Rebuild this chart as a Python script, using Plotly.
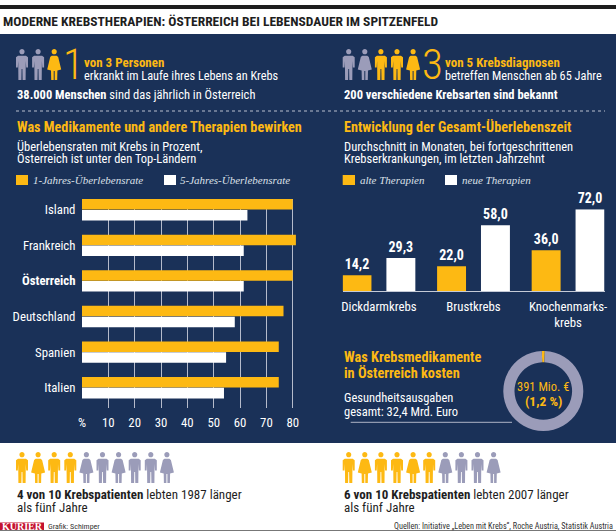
import plotly.graph_objects as go

W, H = 616, 531
NAVY = "#1A3158"
GOLD = "#FDB913"
GRAY = "#9B9CB9"
NARROW = "'Roboto Condensed', Roboto, sans-serif"
SERIF = "Liberation Serif"

countries = ["Island", "Frankreich", "<b>Österreich</b>", "Deutschland", "Spanien", "Italien"]
one_year = [80.0, 81.2, 80.0, 76.5, 74.7, 74.7]
five_year = [62.8, 61.4, 61.4, 58.0, 54.7, 53.9]
pct_ticks = [0, 10, 20, 30, 40, 50, 60, 70, 80]
pct_labels = ["%", "10", "20", "30", "40", "50", "60", "70", "80"]

cancers = ["Dickdarmkrebs", "Brustkrebs", "Knochenmarks-<br>krebs"]
old_therapy = [14.2, 22.0, 36.0]
new_therapy = [29.3, 58.0, 72.0]

cost_share = [1.2, 98.8]

icons_top_left = [("m", GRAY), ("m", GRAY), ("f", GOLD)]
icons_top_right = [("m", GRAY), ("f", GRAY), ("m", GOLD), ("m", GOLD), ("f", GOLD)]
icons_1987 = [("m", GOLD), ("f", GOLD), ("m", GOLD), ("m", GOLD), ("f", GRAY),
              ("m", GRAY), ("f", GRAY), ("m", GRAY), ("m", GRAY), ("f", GRAY)]
icons_2007 = [("m", GOLD), ("f", GOLD), ("m", GOLD), ("m", GOLD), ("f", GOLD),
              ("m", GOLD), ("f", GRAY), ("m", GRAY), ("m", GRAY), ("f", GRAY)]


def px(x):
    return x / W


def py(y):
    return 1 - y / H


shapes, annotations = [], []


def rect(x0, y0, x1, y1, color):
    shapes.append(dict(type="rect", xref="paper", yref="paper", x0=px(x0), x1=px(x1),
                       y0=py(y0), y1=py(y1), fillcolor=color, line_width=0, layer="below"))


def line(x0, y0, x1, y1, color, width=1, dash="solid"):
    shapes.append(dict(type="line", xref="paper", yref="paper", x0=px(x0), x1=px(x1),
                       y0=py(y0), y1=py(y1), line=dict(color=color, width=width, dash=dash),
                       layer="below"))


def text(x, y, s, size=12.5, color="white", anchor="left", family=NARROW, weight=None):
    font = dict(size=size, color=color, family=family)
    if weight:
        font["weight"] = weight
    annotations.append(dict(x=px(x), y=py(y), xref="paper", yref="paper", text=s,
                            showarrow=False, xanchor=anchor, yanchor="middle", borderpad=0,
                            align=anchor, font=font))


def person(cx, top, kind, color):
    P = lambda dx, dy: f"{px(cx + dx):.5f},{py(top + dy):.5f}"
    r = 2.6
    head = (f"M{P(-r, 2.8)} C{P(-r, -0.8)} {P(r, -0.8)} {P(r, 2.8)} "
            f"C{P(r, 6.2)} {P(-r, 6.2)} {P(-r, 2.8)} Z")
    if kind == "m":
        body = ("M" + " L".join(P(a, b) for a, b in [
            (-4, 6.8), (4, 6.8), (6, 8.2), (6, 18.5), (4.2, 18.5), (3.8, 12), (3.6, 31),
            (0.6, 31), (0.4, 20), (-0.4, 20), (-0.6, 31), (-3.6, 31), (-3.8, 12),
            (-4.2, 18.5), (-6, 18.5), (-6, 8.2)]) + " Z")
    else:
        body = ("M" + " L".join(P(a, b) for a, b in [
            (-2.5, 6.8), (2.5, 6.8), (4, 8), (7, 20.5), (3.2, 21.5), (3, 31), (0.5, 31),
            (0.5, 22), (-0.5, 22), (-0.5, 31), (-3, 31), (-3.2, 21.5), (-7, 20.5),
            (-4, 8)]) + " Z")
    shapes.append(dict(type="path", xref="paper", yref="paper", path=head + " " + body,
                       fillcolor=color, line_width=0, layer="below"))


def people(x0, top, icons):
    for i, (kind, color) in enumerate(icons):
        person(x0 + 16.1 * i, top, kind, color)


# Frame
rect(0, 5, W, 9, "#1E1E1E")
rect(0, 34, W, 443, NAVY)
rect(0, 530, W, 531, "#777777")
text(2, 21, "<b>MODERNE KREBSTHERAPIEN: ÖSTERREICH BEI LEBENSDAUER IM SPITZENFELD</b>", 13.5, "#1E1E1E")

# Top facts
people(22, 49, icons_top_left)
people(348.7, 49, icons_top_right)
text(73, 64, "1", 43, GOLD, "center", weight=300)
text(432, 64, "3", 43, GOLD, "center", weight=300)
text(83, 62.5, "<b>von 3 Personen</b>", 13, GOLD)
text(83, 75.5, "erkrankt im Laufe ihres Lebens an Krebs", 12.3)
text(16, 94.5, "<b>38.000 Menschen</b> sind das jährlich in Österreich", 12.5)
text(444, 62.5, "<b>von 5 Krebsdiagnosen</b>", 13, GOLD)
text(444, 75.5, "betreffen Menschen ab 65 Jahre", 12.3)
text(343, 94.5, "<b>200 verschiedene Krebsarten sind bekannt</b>", 12.5)
line(16, 111, 605, 111, "#B9C0CE", 1, "dot")

# Section headings
text(16, 127, "<b>Was Medikamente und andere Therapien bewirken</b>", 14.2, GOLD)
text(16, 146, "Überlebensraten mit Krebs in Prozent,", 12.5)
text(16, 158.5, "Österreich ist unter den Top-Ländern", 12.5)
text(343, 127, "<b>Entwicklung der Gesamt-Überlebenszeit</b>", 14.2, GOLD)
text(343, 146, "Durchschnitt in Monaten, bei fortgeschrittenen", 12.5)
text(343, 158.5, "Krebserkrankungen, im letzten Jahrzehnt", 12.5)

# Hand-placed legends
rect(16, 175, 28, 185, GOLD)
text(32, 180, "<i>1-Jahres-Überlebensrate</i>", 11, "#DDE0E8", family=SERIF)
rect(164, 175, 176, 185, "white")
text(179, 180, "<i>5-Jahres-Überlebensrate</i>", 11, "#DDE0E8", family=SERIF)
rect(342.7, 175, 355, 185, GOLD)
text(359, 180, "<i>alte Therapien</i>", 11, "#DDE0E8", family=SERIF)
rect(445, 175, 457, 185, "white")
text(461, 180, "<i>neue Therapien</i>", 11, "#DDE0E8", family=SERIF)

# Cost block
text(343, 357, "<b>Was Krebsmedikamente</b>", 14.3, GOLD)
text(343, 372.7, "<b>in Österreich kosten</b>", 14.3, GOLD)
text(343, 397, "Gesundheitsausgaben", 12.5)
text(343, 411, "gesamt: 32,4 Mrd. Euro", 12.5)
line(350.7, 422.3, 512, 422.3, "#AEB4C6", 1)
text(543.3, 386.7, "391 Mio. €", 12.5, GOLD, "center")
text(543.3, 400.7, "<b>(1,2 %)</b>", 13.5, GOLD, "center")

# Bottom
people(22, 452, icons_1987)
people(348.7, 452, icons_2007)
text(16, 494.3, "<b>4 von 10 Krebspatienten</b> lebten 1987 länger", 13, "#1E1E1E")
text(16, 507.7, "als fünf Jahre", 13, "#1E1E1E")
text(343, 494.3, "<b>6 von 10 Krebspatienten</b> lebten 2007 länger", 13, "#1E1E1E")
text(343, 507.7, "als fünf Jahre", 13, "#1E1E1E")
rect(0, 522.5, 44, 530, "#C4122F")
text(22, 526.2, "<b>KURIER</b>", 10, "white", "center", SERIF)
text(47, 526, "Grafik: Schimper", 8, "#333333")
text(614, 526, "Quellen: Initiative „Leben mit Krebs“, Roche Austria, Statistik Austria", 8.2, "#333333", "right")

fig = go.Figure()
fig.add_bar(y=countries, x=one_year, orientation="h", marker=dict(color=GOLD, line_width=0),
            xaxis="x", yaxis="y", name="1-Jahres-Überlebensrate")
fig.add_bar(y=countries, x=five_year, orientation="h", marker=dict(color="white", line_width=0),
            xaxis="x", yaxis="y", name="5-Jahres-Überlebensrate")
fmt = lambda vals: [f"{v:.1f}".replace(".", ",") for v in vals]
label_font = dict(family=NARROW, size=14, color="white")
fig.add_bar(x=cancers, y=old_therapy, marker=dict(color=GOLD, line_width=0), xaxis="x2", yaxis="y2",
            text=[f"<b>{t}</b>" for t in fmt(old_therapy)], textposition="outside",
            textfont=label_font, cliponaxis=False, name="alte Therapien",
            width=0.306, offset=-0.232 - 0.153)
fig.add_bar(x=cancers, y=new_therapy, marker=dict(color="white", line_width=0), xaxis="x2", yaxis="y2",
            text=[f"<b>{t}</b>" for t in fmt(new_therapy)], textposition="outside",
            textfont=label_font, cliponaxis=False, name="neue Therapien",
            width=0.306, offset=0.232 - 0.153)
fig.add_pie(values=cost_share, sort=False, direction="clockwise", rotation=-2.16, hole=0.72,
            marker=dict(colors=[GOLD, GRAY], line_width=0), textinfo="none",
            domain=dict(x=[px(503.3), px(583.3)], y=[py(431), py(351)]))

tickfont = dict(family=NARROW, size=12.8, color="white")
fig.update_layout(
    width=W, height=H, margin=dict(l=0, r=0, t=0, b=0), autosize=False,
    paper_bgcolor="white", plot_bgcolor="rgba(0,0,0,0)", showlegend=False,
    barmode="group", bargap=0.39, bargroupgap=0.03,
    shapes=shapes, annotations=annotations,
    xaxis=dict(domain=[px(82), px(298)], range=[0, 82], anchor="y", tickvals=pct_ticks,
               ticktext=pct_labels, tickfont=tickfont, showgrid=True, gridcolor="#B5BBCB",
               gridwidth=1, zeroline=False, showline=False, ticks="outside", ticklen=3,
               tickcolor="rgba(0,0,0,0)", automargin=False),
    yaxis=dict(domain=[py(408), py(198.7)], range=[5.57, -0.31], anchor="x", type="category",
               categoryorder="array", categoryarray=countries, tickfont=tickfont, showgrid=False,
               zeroline=False, showline=False, ticks="outside", ticklen=3,
               tickcolor="rgba(0,0,0,0)", automargin=False),
    xaxis2=dict(domain=[px(342.7), px(604.5)], range=[-0.383, 2.385], anchor="y2", type="category",
                tickfont=tickfont, showgrid=False, zeroline=False, showline=True, linecolor="#C5CAD6",
                linewidth=1, ticks="outside", ticklen=3, tickcolor="rgba(0,0,0,0)", automargin=False),
    yaxis2=dict(domain=[py(291.3), py(209.3)], range=[0, 72], anchor="x2", visible=False,
                automargin=False),
)
fig.write_html("out.html", config=dict(displayModeBar=False),
               post_script="document.body.style.margin='0';window.dispatchEvent(new Event('resize'));")
